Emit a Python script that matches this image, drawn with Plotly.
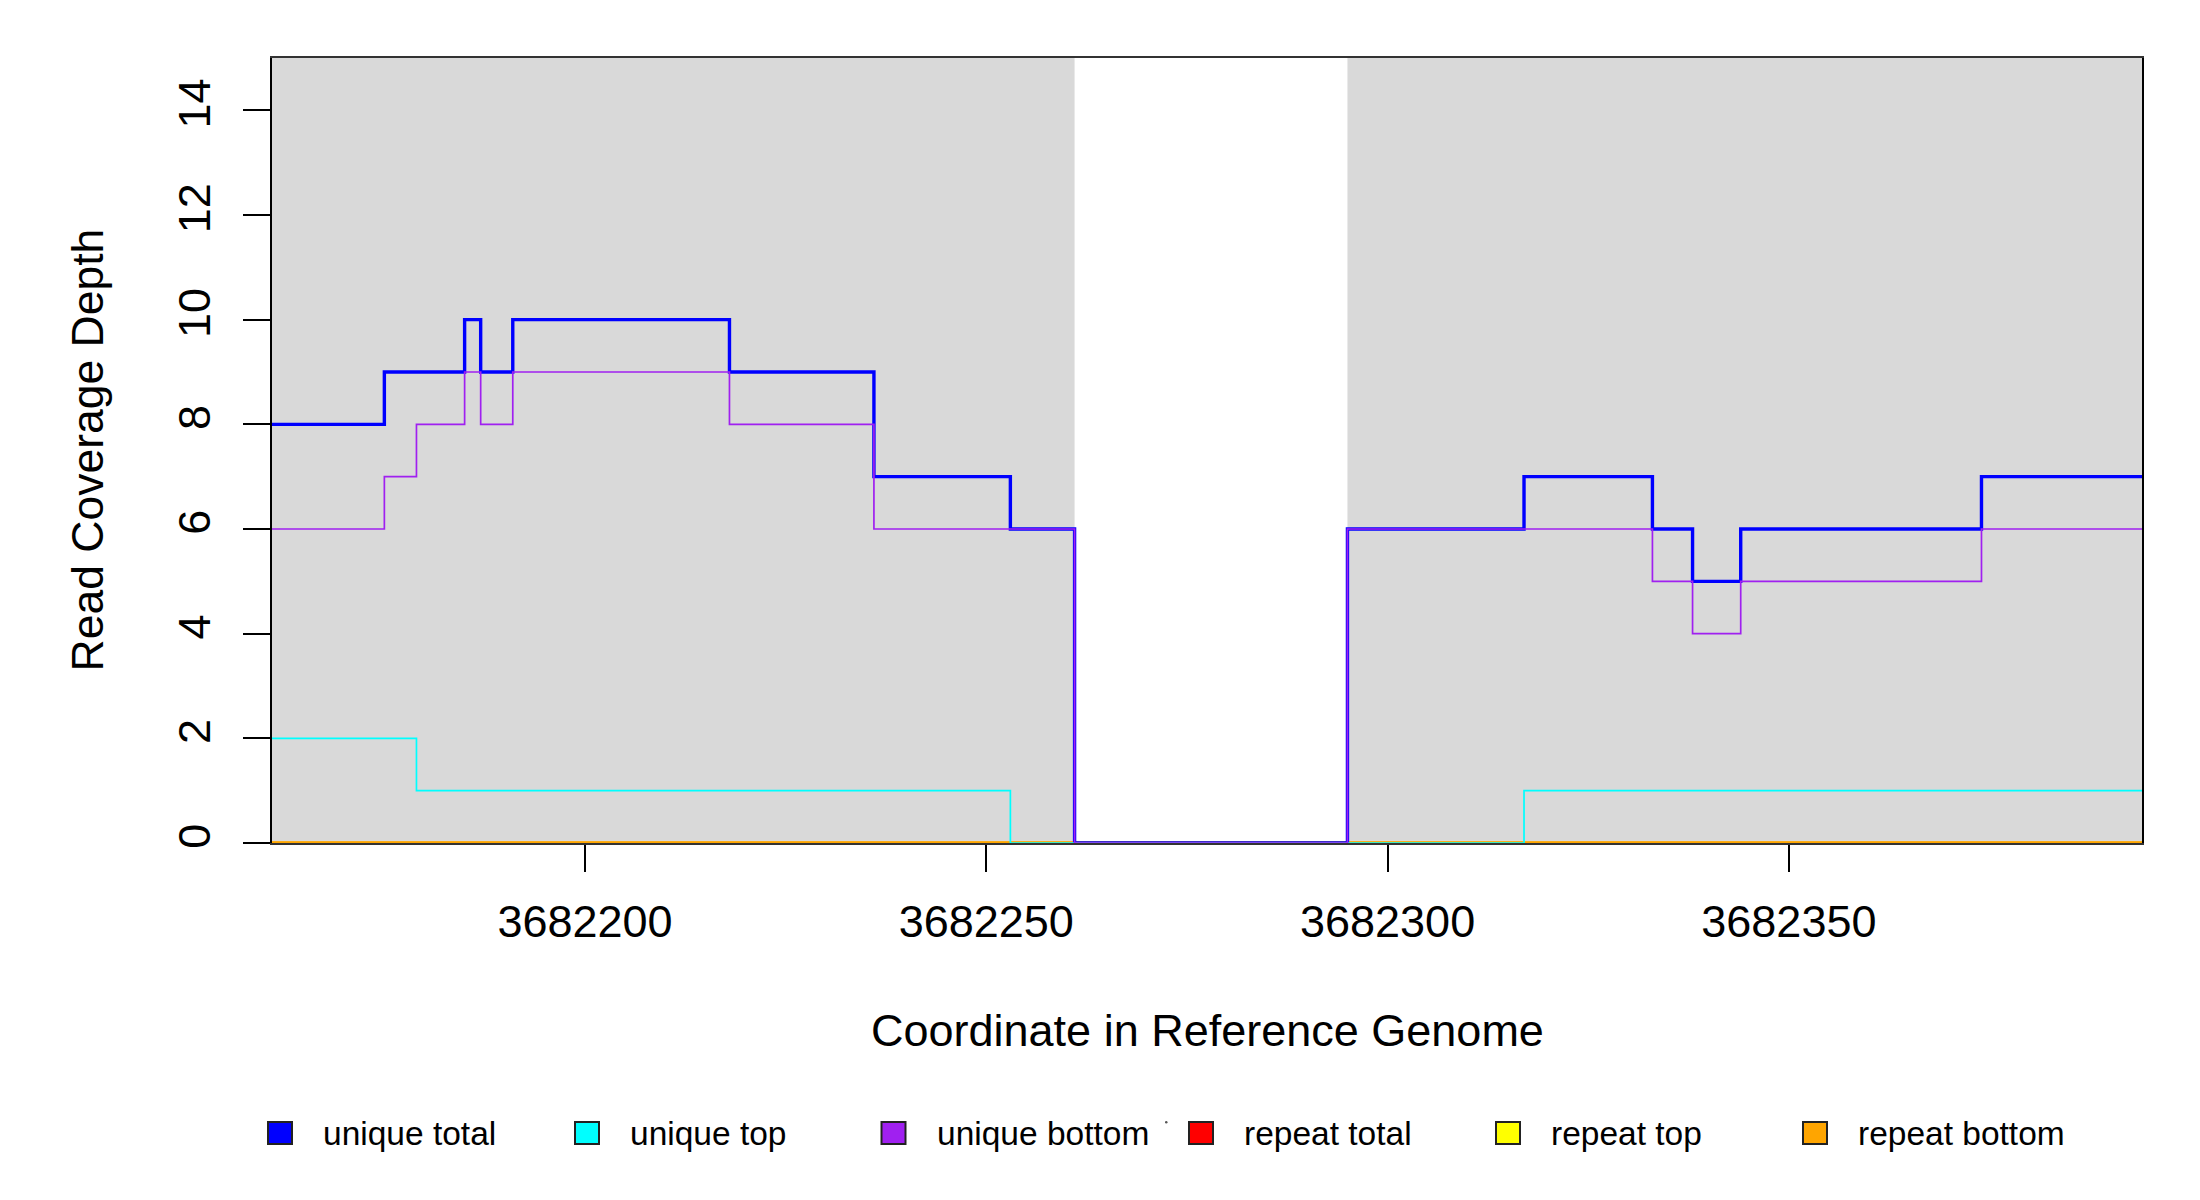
import plotly.graph_objects as go

# ---------------- data ----------------
positions = [3682161, 3682175, 3682179, 3682185, 3682187, 3682191, 3682218,
             3682236, 3682253, 3682261, 3682295, 3682317, 3682333, 3682338,
             3682344, 3682374, 3682394]  # last value = end of final step
unique_total = [8, 9, 9, 10, 9, 10, 9, 7, 6, 0, 6, 7, 6, 5, 6, 7]
unique_top = [2, 2, 1, 1, 1, 1, 1, 1, 0, 0, 0, 1, 1, 1, 1, 1]
unique_bottom = [6, 7, 8, 9, 8, 9, 8, 6, 6, 0, 6, 6, 5, 4, 5, 6]
repeat_total = [0, 0, 0, 0, 0, 0, 0, 0, 0, 0, 0, 0, 0, 0, 0, 0]
repeat_top = [0, 0, 0, 0, 0, 0, 0, 0, 0, 0, 0, 0, 0, 0, 0, 0]
repeat_bottom = [0, 0, 0, 0, 0, 0, 0, 0, 0, 0, 0, 0, 0, 0, 0, 0]

covered_starts = [3682161, 3682295]
covered_ends = [3682261, 3682394]

x_ticks = [3682200, 3682250, 3682300, 3682350]
x_tick_labels = ["3682200", "3682250", "3682300", "3682350"]
y_ticks = [0, 2, 4, 6, 8, 10, 12, 14]

series_names = ["unique total", "unique top", "unique bottom",
                "repeat total", "repeat top", "repeat bottom"]
series_colors = ["#0000FF", "#00FFFF", "#A020F0", "#FF0000", "#FFFF00", "#FFA500"]

# ---------------- layout geometry (pixels) ----------------
OFF = 8  # page body margin
W, H = 2200, 1200
L, R_, T, B = 264, 66, 50, 365
PW = W - L - R_
PH = H - T - B


def px_x(p):
    return (p - OFF - L) / PW


def px_y(p):
    return (OFF + H - B - p) / PH


FONT = "Liberation Sans, Arial, Helvetica, sans-serif"

fig = go.Figure()


def step_vals(v):
    return list(v) + [v[-1]]


series = {
    "unique total": unique_total,
    "unique top": unique_top,
    "unique bottom": unique_bottom,
    "repeat total": repeat_total,
    "repeat top": repeat_top,
    "repeat bottom": repeat_bottom,
}
widths = {"unique total": 3.4}

draw_order = ["repeat total", "repeat top", "repeat bottom",
              "unique total", "unique top", "unique bottom"]
for name in draw_order:
    col = series_colors[series_names.index(name)]
    w = widths.get(name, 1.7)
    if name.startswith("repeat"):
        w = 3.0
    fig.add_trace(go.Scatter(
        x=positions, y=step_vals(series[name]), mode="lines",
        line=dict(color=col, width=w, shape="hv"),
        name=name, showlegend=False, hoverinfo="skip"))

shapes = []
for s, e in zip(covered_starts, covered_ends):
    shapes.append(dict(type="rect", xref="x", yref="paper", x0=s, x1=e, y0=0, y1=1,
                       fillcolor="#D9D9D9", line=dict(width=0), layer="below"))

annotations = []
# legend
box_cx = [280, 587, 893.5, 1201, 1508, 1815]
leg_y = 1133
for cx, name, col in zip(box_cx, series_names, series_colors):
    shapes.append(dict(type="rect", xref="paper", yref="paper",
                       x0=px_x(cx - 12), x1=px_x(cx + 12),
                       y0=px_y(leg_y + 11), y1=px_y(leg_y - 11),
                       fillcolor=col, line=dict(color="#222222", width=2)))
    annotations.append(dict(xref="paper", yref="paper", x=px_x(cx + 41), y=px_y(leg_y),
                            text=name, showarrow=False, xanchor="left", yanchor="middle",
                            font=dict(family=FONT, size=33.5, color="black")))
# tiny stray mark in legend
shapes.append(dict(type="circle", xref="paper", yref="paper",
                   x0=px_x(1165), x1=px_x(1167.5), y0=px_y(1123.5), y1=px_y(1121),
                   fillcolor="#555555", line=dict(width=0)))

# axis titles
annotations.append(dict(xref="paper", yref="paper", x=0.5, y=px_y(1030),
                        text="Coordinate in Reference Genome", showarrow=False,
                        xanchor="center", yanchor="middle",
                        font=dict(family=FONT, size=45, color="black")))
annotations.append(dict(xref="paper", yref="paper", x=px_x(87), y=0.5,
                        text="Read Coverage Depth", showarrow=False, textangle=-90,
                        xanchor="center", yanchor="middle",
                        font=dict(family=FONT, size=44.5, color="black")))

fig.update_layout(
    width=W, height=H,
    margin=dict(l=L, r=R_, t=T, b=B, pad=0),
    paper_bgcolor="white", plot_bgcolor="white",
    shapes=shapes, annotations=annotations,
    showlegend=False,
    font=dict(family=FONT, size=45, color="black"),
)
fig.update_xaxes(
    range=[positions[0], positions[-1]], tickmode="array",
    tickvals=x_ticks, ticktext=x_tick_labels,
    ticks="outside", ticklen=27, tickwidth=1.6, tickcolor="black",
    showline=True, linecolor="#333333", linewidth=1.6, mirror=True,
    showgrid=False, zeroline=False, layer="below traces",
    tickfont=dict(family=FONT, size=45, color="black"),
    ticklabelstandoff=11,
)
fig.update_yaxes(
    range=[0, 15], tickmode="array", tickvals=y_ticks,
    ticks="outside", ticklen=27, tickwidth=1.6, tickcolor="black",
    showline=True, linecolor="black", linewidth=1.6, mirror=True,
    showgrid=False, zeroline=False, tickangle=-90,
    tickfont=dict(family=FONT, size=45, color="black"),
    ticklabelstandoff=15,
)

fig.write_html("out.html")
